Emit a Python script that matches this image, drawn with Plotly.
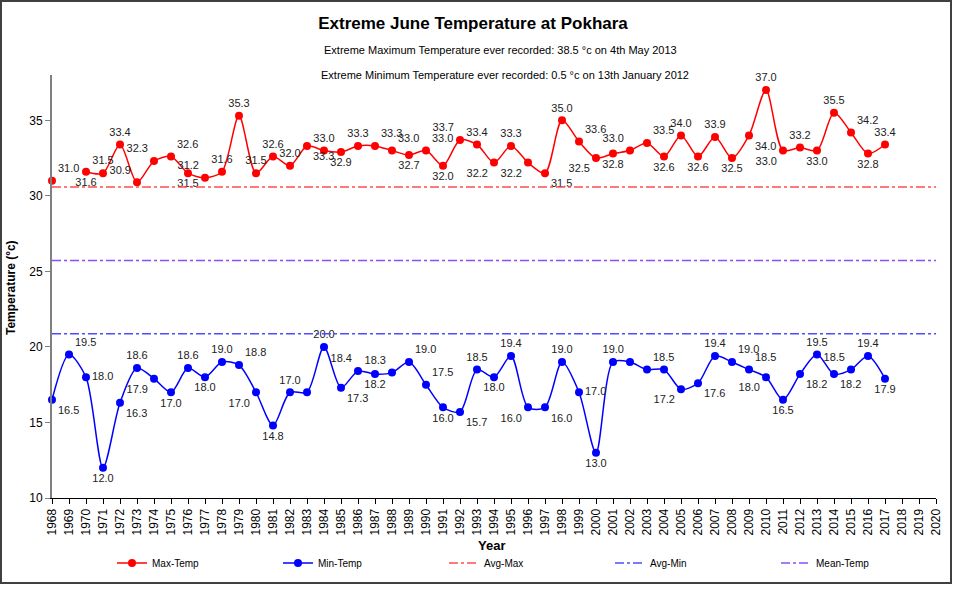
import plotly.graph_objects as go

years = list(range(1968, 2018))

max_temp = [31.0, None, 31.6, 31.5, 33.4, 30.9, 32.3, 32.6, 31.5, 31.2,
            31.6, 35.3, 31.5, 32.6, 32.0, 33.3, 33.0, 32.9, 33.3, 33.3,
            33.0, 32.7, 33.0, 32.0, 33.7, 33.4, 32.2, 33.3, 32.2, 31.5,
            35.0, 33.6, 32.5, 32.8, 33.0, 33.5, 32.6, 34.0, 32.6, 33.9,
            32.5, 34.0, 37.0, 33.0, 33.2, 33.0, 35.5, 34.2, 32.8, 33.4]

min_temp = [16.5, 19.5, 18.0, 12.0, 16.3, 18.6, 17.9, 17.0, 18.6, 18.0,
            19.0, 18.8, 17.0, 14.8, 17.0, 17.0, 20.0, 17.3, 18.4, 18.2,
            18.3, 19.0, 17.5, 16.0, 15.7, 18.5, 18.0, 19.4, 16.0, 16.0,
            19.0, 17.0, 13.0, 19.0, 19.0, 18.5, 18.5, 17.2, 17.6, 19.4,
            19.0, 18.5, 18.0, 16.5, 18.2, 19.5, 18.2, 18.5, 19.4, 17.9]

avg_max = 30.58
avg_min = 20.87
mean_temp = 25.72

# label placement (style only)
max_pos = ["top right", "top center", "bottom center", "top center", "top center", "top left",
           "top left", "top right", "bottom center", "top left", "top center", "top center",
           "top center", "top center", "top center", "bottom right", "top center", "bottom center",
           "top center", "top right", "top right", "bottom center", "top right", "bottom center",
           "top left", "top center", "bottom left", "top center", "bottom left", "bottom right",
           "top center", "top right", "bottom left", "bottom center", "top left", "top right",
           "bottom center", "top center", "bottom center", "top center", "bottom center", "bottom right",
           "top center", "bottom left", "top center", "bottom center", "top center", "top right",
           "bottom center", "top center"]
min_pos = ["bottom right", "top right", "middle right", "bottom center", "bottom right", "top center",
           "bottom left", "bottom center", "top center", "bottom center", "top center", "top right",
           "bottom left", "bottom center", "top center", "top center", "top center", "bottom right",
           "top left", "bottom center", "top left", "top right", "top right", "bottom center",
           "bottom right", "top center", "bottom center", "top center", "bottom left", "bottom right",
           "top center", "middle right", "bottom center", "top center", "top left", "top right",
           "top center", "bottom left", "bottom right", "top center", "top right", "top right",
           "bottom left", "bottom center", "bottom right", "top center", "bottom right", "top left",
           "top center", "bottom center"]
min_hidden = [1983, 2001, 2004]

max_text = ["" if v is None else "%.1f" % v for v in max_temp]
min_text = ["" if y in min_hidden else "%.1f" % v for y, v in zip(years, min_temp)]

FONT = "Liberation Sans, Arial"
lbl_font = dict(family=FONT, size=11, color="#222222")

# plot area in pixels: x 52..936, y 75..498
L, R, T, B = 52, 936, 75, 498
W, H = R - L, B - T


def px(x):
    return (x - L) / W


def py(y):
    return (B - y) / H


fig = go.Figure()
fig.add_trace(go.Scatter(x=years, y=max_temp, name="Max-Temp", mode="lines+markers+text",
                         line=dict(color="#FF0000", width=1.5, shape="spline", smoothing=0.8),
                         marker=dict(color="#FF0000", size=8),
                         text=max_text, textposition=max_pos, textfont=lbl_font,
                         connectgaps=False, cliponaxis=False))
fig.add_trace(go.Scatter(x=years, y=min_temp, name="Min-Temp", mode="lines+markers+text",
                         line=dict(color="#0000FF", width=1.5, shape="spline", smoothing=0.8),
                         marker=dict(color="#0000FF", size=8),
                         text=min_text, textposition=min_pos, textfont=lbl_font,
                         cliponaxis=False))
fig.add_trace(go.Scatter(x=[1968, 2020], y=[avg_max, avg_max], name="Avg-Max", mode="lines",
                         line=dict(color="#FF4D4D", width=1.5, dash="dashdot")))
fig.add_trace(go.Scatter(x=[1968, 2020], y=[avg_min, avg_min], name="Avg-Min", mode="lines",
                         line=dict(color="#4D4DFF", width=1.5, dash="dashdot")))
fig.add_trace(go.Scatter(x=[1968, 2020], y=[mean_temp, mean_temp], name="Mean-Temp", mode="lines",
                         line=dict(color="#8A4DFF", width=1.5, dash="dashdot")))

fig.update_xaxes(range=[1968, 2020], tickmode="linear", tick0=1968, dtick=1, tickangle=-90,
                 ticks="outside", ticklen=5, tickcolor="#000000", showline=True,
                 linecolor="#000000", linewidth=1, showgrid=False, zeroline=False,
                 automargin=False,
                 tickfont=dict(family=FONT, size=12, color="#000000"))
fig.update_yaxes(range=[10, 38], tickmode="linear", tick0=10, dtick=5,
                 ticks="outside", ticklen=5, tickcolor="#808080", showline=True,
                 linecolor="#808080", linewidth=2, showgrid=False, zeroline=False,
                 automargin=False,
                 tickfont=dict(family=FONT, size=12, color="#000000"))

fig.update_layout(
    width=958, height=590,
    margin=dict(l=L, r=958 - R, t=T, b=590 - B, autoexpand=False),
    plot_bgcolor="white", paper_bgcolor="white",
    font=dict(family=FONT, color="#000000"),
    title=dict(text="<b>Extreme June Temperature at Pokhara</b>", x=473 / 958,
               xanchor="center", xref="container", y=1 - 23 / 590, yanchor="middle",
               font=dict(family=FONT, size=17, color="#000000")),
    showlegend=True,
    legend=dict(orientation="h", x=px(112), xanchor="left", y=py(563), yanchor="middle",
                entrywidth=121, entrywidthmode="pixels", bgcolor="rgba(0,0,0,0)",
                font=dict(family=FONT, size=10, color="#000000")),
    annotations=[
        dict(text="Extreme Maximum Temperature ever recorded: 38.5 °c on 4th May 2013",
             xref="paper", yref="paper", x=px(500), y=py(50),
             xanchor="center", yanchor="middle", showarrow=False,
             font=dict(family=FONT, size=11, color="#000000")),
        dict(text="Extreme Minimum Temperature ever recorded: 0.5 °c on 13th January 2012",
             xref="paper", yref="paper", x=px(505), y=py(75),
             xanchor="center", yanchor="middle", showarrow=False,
             font=dict(family=FONT, size=11, color="#000000")),
        dict(text="<b>Year</b>", xref="paper", yref="paper", x=px(491), y=py(545),
             xanchor="center", yanchor="middle", showarrow=False,
             font=dict(family=FONT, size=13, color="#000000")),
        dict(text="<b>Temperature (°c)</b>", xref="paper", yref="paper", x=px(11), y=py(288),
             xanchor="center", yanchor="middle", showarrow=False, textangle=-90,
             font=dict(family=FONT, size=12, color="#000000")),
    ],
    shapes=[dict(type="rect", xref="paper", yref="paper",
                 x0=px(1), x1=px(951), y0=py(583), y1=py(1),
                 line=dict(color="#404040", width=2), fillcolor="rgba(0,0,0,0)", layer="below")],
)

fig.write_html("out.html", config={"displayModeBar": False},
               post_script="document.body.style.margin='0';")
